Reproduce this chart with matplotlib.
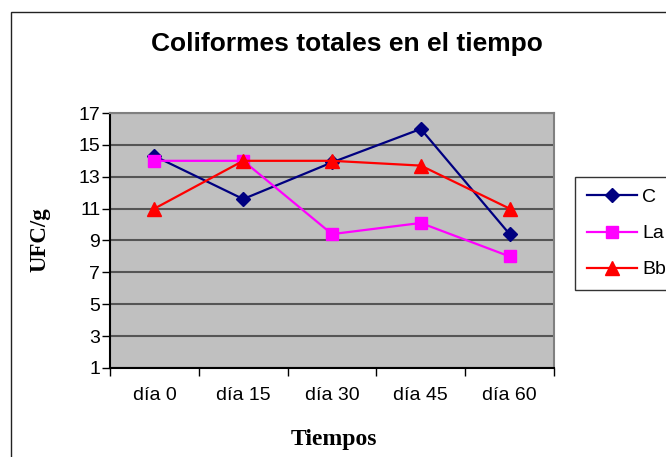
import matplotlib
matplotlib.use("Agg")
import matplotlib.pyplot as plt
from matplotlib.patches import Rectangle
from matplotlib.ticker import FixedLocator, NullFormatter

categories = ["día 0", "día 15", "día 30", "día 45", "día 60"]
series_names = ["C", "La", "Bb"]
values_C = [14.3, 11.6, 13.9, 16.0, 9.4]
values_La = [14.0, 14.0, 9.4, 10.1, 8.0]
values_Bb = [11.0, 14.0, 14.0, 13.7, 11.0]
y_ticks = [1, 3, 5, 7, 9, 11, 13, 15, 17]

W, H = 666, 457
fig = plt.figure(figsize=(W / 100, H / 100), dpi=100)
fig.patch.set_facecolor("white")

# outer chart border
fig.add_artist(Rectangle((11 / W, -0.1), 2.0, (H - 12) / H + 0.1,
                         transform=fig.transFigure, fill=False,
                         edgecolor="#222222", linewidth=1.0))

left, right, top, bottom = 110, 554, 113, 368
ax = fig.add_axes([left / W, 1 - bottom / H, (right - left) / W, (bottom - top) / H])
ax.set_facecolor("#C0C0C0")

x = list(range(len(categories)))
styles = [
    (values_C, "#000080", "D", 7.5),
    (values_La, "#FF00FF", "s", 8.5),
    (values_Bb, "#FF0000", "^", 10),
]
for name, (vals, col, mk, ms) in zip(series_names, styles):
    ax.plot(x, vals, color=col, marker=mk, markersize=ms, linewidth=1.6,
            markeredgecolor=col, markerfacecolor=col, label=name, zorder=3)

ax.set_xlim(-0.5, len(categories) - 0.5)
ax.set_ylim(y_ticks[0], y_ticks[-1])
ax.set_yticks(y_ticks)
ax.yaxis.grid(True, color="#555555", linewidth=1.5)
ax.set_axisbelow(True)

ax.set_xticks(x)
ax.set_xticklabels(categories)
ax.xaxis.set_minor_locator(FixedLocator([i - 0.5 for i in range(len(categories) + 1)]))
ax.xaxis.set_minor_formatter(NullFormatter())
ax.tick_params(axis="x", which="major", length=0, pad=14, labelsize=14)
ax.tick_params(axis="x", which="minor", length=6, direction="out", color="black", width=1)
ax.tick_params(axis="y", length=6, direction="out", color="black", width=1, labelsize=14, pad=1)
for lbl in ax.get_xticklabels() + ax.get_yticklabels():
    lbl.set_family("Liberation Sans")

ax.spines["left"].set_color("black")
ax.spines["bottom"].set_color("black")
ax.spines["top"].set_color("#808080")
ax.spines["right"].set_color("#808080")
for s in ax.spines.values():
    s.set_linewidth(1.5)

fig.text(347 / W, 1 - 44 / H, "Coliformes totales en el tiempo", ha="center", va="center",
         fontsize=19, fontweight="bold", family="Liberation Sans")
fig.text(40 / W, 1 - 240 / H, "UFC/g", ha="center", va="center", rotation=90,
         fontsize=16.5, fontweight="bold", family="Liberation Serif")
fig.text(334 / W, 1 - 440 / H, "Tiempos", ha="center", va="center",
         fontsize=17, fontweight="bold", family="Liberation Serif")

leg = fig.legend(loc="upper left", bbox_to_anchor=(575 / W, 1 - 177 / H),
                 bbox_transform=fig.transFigure, frameon=True, fancybox=False,
                 edgecolor="black", prop={"family": "Liberation Sans", "size": 14},
                 handlelength=2.6, labelspacing=0.95, borderpad=0.6,
                 borderaxespad=0.0, handletextpad=0.25)
leg.get_frame().set_linewidth(1.0)

fig.savefig("out.png", dpi=100)
